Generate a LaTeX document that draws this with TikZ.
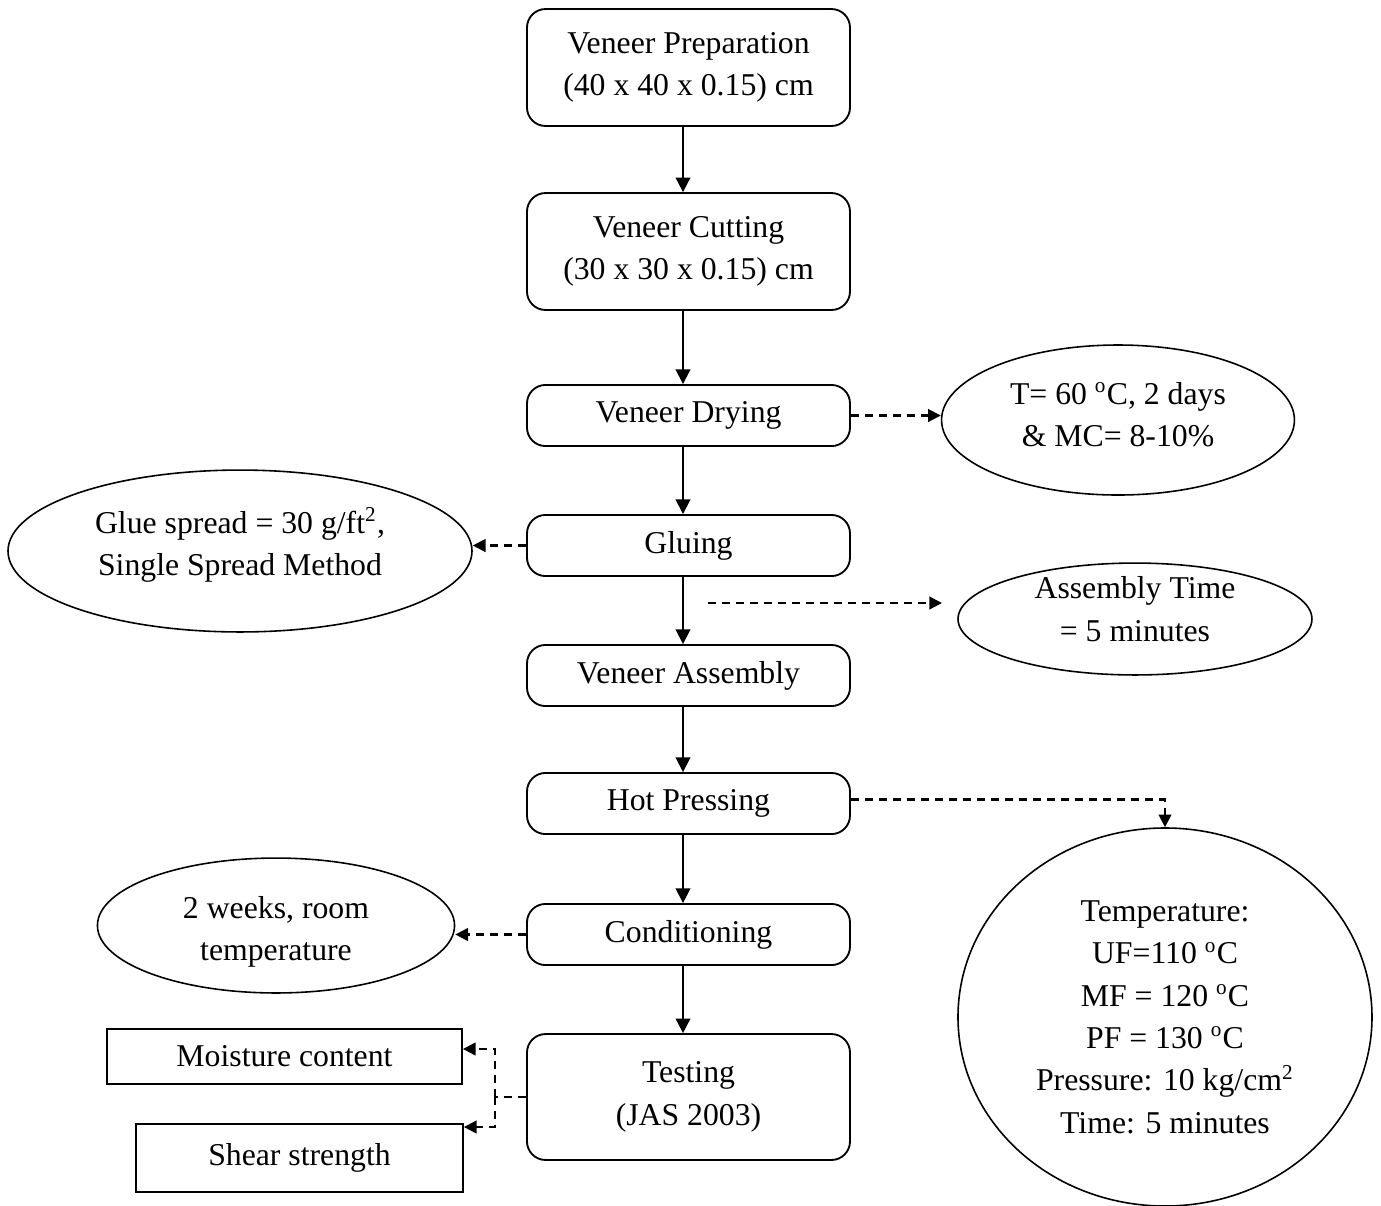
\documentclass[tikz,border=0pt]{standalone}
\usepackage{fontspec}
\setmainfont{Liberation Serif}
\usetikzlibrary{shapes.geometric,arrows.meta,calc}
\begin{document}
\begin{tikzpicture}[x=0.378pt,y=-0.378pt,
  font=\fontsize{12}{16}\selectfont,
  mainbox/.style={draw, rounded corners=7pt, line width=0.7pt, minimum width=122.1pt, align=center, inner sep=0pt},
  tallbox/.style={mainbox, minimum height=44.2pt},
  shortbox/.style={mainbox, minimum height=23.1pt},
  ell/.style={draw, ellipse, line width=0.6pt, inner sep=0pt},
  elltext/.style={align=center, inner sep=0pt},
  sqbox/.style={draw, rectangle, line width=0.7pt, inner sep=0pt, align=center},
  solidarr/.style={line width=0.7pt, -{Triangle[length=5.5pt,width=5.5pt]}},
  dashline/.style={line width=0.8pt, dash pattern=on 3pt off 2.3pt},
  dasharr/.style={dashline, -{Triangle[length=4.8pt,width=4.8pt]}}
]
\useasboundingbox (0,0) rectangle (1381,1205);
\clip (0,0) rectangle (1381,1205);

% main process boxes
\node[tallbox]  (prep) at (688.5,67.5)  {Veneer Preparation\\(40 x 40 x 0.15) cm};
\node[tallbox]  (cut)  at (688.5,251.5) {Veneer Cutting\\(30 x 30 x 0.15) cm};
\node[shortbox] (dry)  at (688.5,415.5) {Veneer Drying};
\node[shortbox] (glue) at (688.5,545.5) {Gluing};
\node[shortbox] (asm)  at (688.5,675.5) {Veneer Assembly};
\node[shortbox] (hot)  at (688.5,803.5) {Hot Pressing};
\node[shortbox] (cond) at (688.5,934.5) {Conditioning};
\node[mainbox, minimum height=47.6pt] (test) at (688.5,1097) {Testing\\(JAS 2003)};

% side nodes (outline + text)
\node[ell, minimum width=133.4pt, minimum height=56.7pt] (dryell) at (1118,420) {};
\node[elltext] (drytxt) at (1118,414.5) {T= 60 \textsuperscript{o}C, 2 days\\\& MC= 8-10\%};
\node[ell, minimum width=175.4pt, minimum height=61.2pt] (glueell) at (240,551) {};
\node[elltext] (gluetxt) at (240,545) {Glue spread = 30 g/ft\textsuperscript{2},\\Single Spread Method};
\node[ell, minimum width=133.8pt, minimum height=42.3pt] (asmell) at (1135,619) {};
\node[elltext] (asmtxt) at (1135,609) {Assembly Time\\= 5 minutes};
\node[ell, minimum width=156.5pt, minimum height=142.9pt] (hotell) at (1165,1017) {};
\node[elltext] (hottxt) at (1165,1017)
  {Temperature:\\UF=110 \textsuperscript{o}C\\MF = 120 \textsuperscript{o}C\\PF = 130 \textsuperscript{o}C\\Pressure: 10 kg/cm\textsuperscript{2}\\Time: 5 minutes};
\node[ell, minimum width=135pt, minimum height=51pt] (condell) at (276,925.5) {};
\node[elltext] (condtxt) at (276,932) {2 weeks, room\\temperature};
\node[sqbox, minimum width=134.2pt, minimum height=20.8pt] (moist) at (284.5,1056.5) {Moisture content};
\node[sqbox, minimum width=123.6pt, minimum height=25.7pt] (shear) at (299.5,1158) {Shear strength};

% helper coordinates
\coordinate (ax) at (683,0);
\coordinate (asmstart) at (708,603);
\coordinate (asmend) at (942,603);
\coordinate (hotstart) at ($(hot.east)+(0,-4)$);
\coordinate (split) at (495,1097);
\coordinate (mrow) at (0,1049);
\coordinate (srow) at (0,1127);

% solid flow arrows
\draw[solidarr] (prep.south -| ax) -- (cut.north -| ax);
\draw[solidarr] (cut.south -| ax) -- (dry.north -| ax);
\draw[solidarr] (dry.south -| ax) -- (glue.north -| ax);
\draw[solidarr] (glue.south -| ax) -- (asm.north -| ax);
\draw[solidarr] (asm.south -| ax) -- (hot.north -| ax);
\draw[solidarr] (hot.south -| ax) -- (cond.north -| ax);
\draw[solidarr] (cond.south -| ax) -- (test.north -| ax);

% dashed side arrows
\draw[dasharr] (dry.east) -- (dry.east -| dryell.west);
\draw[dasharr] (glue.west) -- (glue.west -| glueell.east);
\draw[dasharr] (asmstart) -- (asmend);
\draw[dasharr] (hotstart) -| (hotell.north);
\draw[dasharr] (cond.west) -- (cond.west -| condell.east);
\draw[dashline] (test.west) -- (split);
\draw[dasharr] (split) |- (moist.east |- mrow);
\draw[dasharr] (split) |- (shear.east |- srow);
\end{tikzpicture}
\end{document}
